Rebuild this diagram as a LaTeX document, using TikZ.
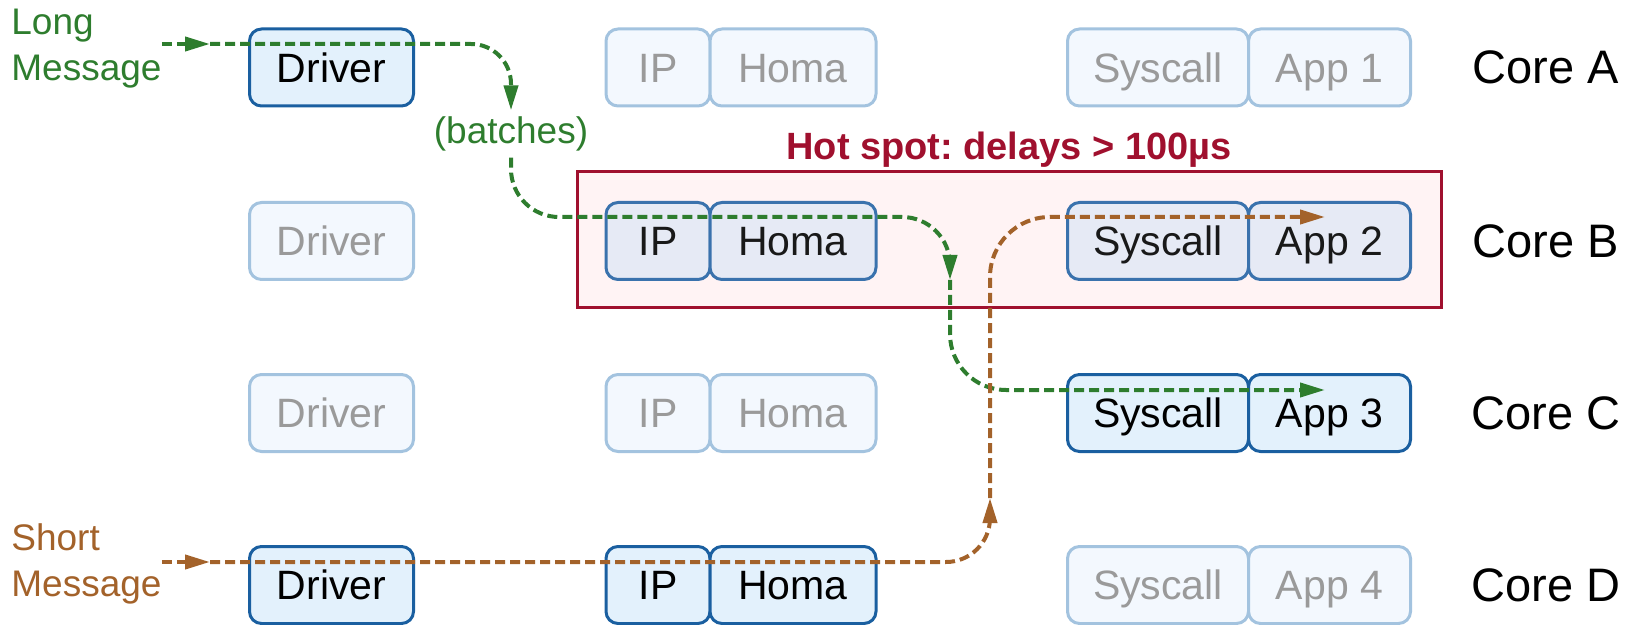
\documentclass[tikz,border=0pt]{standalone}
\usepackage{fontspec}
\setmainfont{Liberation Sans}
\usepackage{tikz}
\usetikzlibrary{arrows.meta,positioning}
\definecolor{bluex}{HTML}{1A5FA0}
\definecolor{bluebg}{HTML}{E3F1FC}
\definecolor{fadeline}{HTML}{A3C3DF}
\definecolor{fadebg}{HTML}{F3F8FE}
\definecolor{fadetext}{HTML}{9A9A9A}
\definecolor{hotline}{HTML}{3A72AD}
\definecolor{hotbg}{HTML}{E6EAF5}
\definecolor{redx}{HTML}{A0102E}
\definecolor{pinkbg}{HTML}{FFF3F4}
\definecolor{greenx}{HTML}{2E7D2E}
\definecolor{brownx}{HTML}{A3622A}
\tikzset{
  box/.style={rounded corners=6pt,line width=1.5pt,minimum height=38.5pt,inner sep=0pt,outer sep=0pt,
    text height=14.7pt,text depth=0pt,font=\fontsize{20.5}{24}\selectfont},
  act/.style={box,draw=bluex,fill=bluebg,text=black},
  dim/.style={box,draw=fadeline,fill=fadebg,text=fadetext},
  hotbox/.style={box,draw=hotline,fill=hotbg,text=black!90},
  wdrv/.style={minimum width=82pt},
  wip/.style={minimum width=52pt},
  whoma/.style={minimum width=83pt},
  wsys/.style={minimum width=90.5pt},
  wapp/.style={minimum width=81pt},
  core/.style={font=\fontsize{23.5}{28}\selectfont,inner sep=0pt},
  msg/.style={align=left,anchor=west,inner sep=0pt,font=\fontsize{18.5}{23}\selectfont},
  flow/.style={line width=2pt,dash pattern=on 5pt off 2.5pt,rounded corners=28pt},
  tip/.style={-{Triangle[length=12.5pt,width=7pt]}}
}
\begin{document}
\begin{tikzpicture}[x=0.5pt,y=-0.5pt]
\useasboundingbox (0,0) rectangle (1625,625);
% hot spot around core B
\node[draw=redx,fill=pinkbg,line width=1.5pt,minimum width=432pt,minimum height=68pt] (hot) at (1009,240) {};
\node[text=redx,inner sep=0pt,font=\bfseries\fontsize{19}{22}\selectfont,above=1.5pt of hot] (hotlbl) {Hot spot:\ delays > 100µs};
% core A
\node[act,wdrv] (drvA) at (331.5,67.5) {Driver};
\node[dim,wip] (ipA) at (658,67.5) {IP};
\node[dim,whoma,right=0pt of ipA] (homaA) {Homa};
\node[dim,wsys] (sysA) at (1158,67.5) {Syscall};
\node[dim,wapp,right=0pt of sysA] (appA) {App 1};
\node[core] (coreA) at (1546,67.5) {Core A};
% core B
\node[dim,wdrv] (drvB) at (331.5,241) {Driver};
\node[hotbox,wip] (ipB) at (658,241) {IP};
\node[hotbox,whoma,right=0pt of ipB] (homaB) {Homa};
\node[hotbox,wsys] (sysB) at (1158,241) {Syscall};
\node[hotbox,wapp,right=0pt of sysB] (appB) {App 2};
\node[core] (coreB) at (1546,241) {Core B};
% core C
\node[dim,wdrv] (drvC) at (331.5,413) {Driver};
\node[dim,wip] (ipC) at (658,413) {IP};
\node[dim,whoma,right=0pt of ipC] (homaC) {Homa};
\node[act,wsys] (sysC) at (1158,413) {Syscall};
\node[act,wapp,right=0pt of sysC] (appC) {App 3};
\node[core] (coreC) at (1546,413) {Core C};
% core D
\node[act,wdrv] (drvD) at (331.5,585) {Driver};
\node[act,wip] (ipD) at (658,585) {IP};
\node[act,whoma,right=0pt of ipD] (homaD) {Homa};
\node[dim,wsys] (sysD) at (1158,585) {Syscall};
\node[dim,wapp,right=0pt of sysD] (appD) {App 4};
\node[core] (coreD) at (1546,585) {Core D};
% messages
\node[msg,text=greenx] (longmsg) at (11,49) {Long\\Message};
\node[msg,text=brownx] (shortmsg) at (11,564) {Short\\Message};
\node[text=greenx,inner xsep=0pt,inner ysep=3pt,font=\fontsize{18.5}{22}\selectfont] (batches) at (511,134) {(batches)};
% long message path
\coordinate (gA) at (210,44);
\coordinate (gB) at (950,217);
\coordinate (gC) at (950,280);
\coordinate (gD) at (1325,390);
\draw[flow,greenx,tip] (longmsg.east |- gA) -- (gA);
\draw[flow,greenx,tip,rounded corners=20pt] (gA) -| (batches.north);
\draw[flow,greenx,tip,rounded corners=24pt] (batches.south) |- (gB) -- (gC);
\draw[flow,greenx,tip] (gC) |- (gD);
% short message path
\coordinate (bA) at (210,562);
\coordinate (bB) at (990,498);
\coordinate (bC) at (1325,217);
\draw[flow,brownx,tip] (shortmsg.east |- bA) -- (bA);
\draw[flow,brownx,tip,rounded corners=22pt] (bA) -| (bB);
\draw[flow,brownx,tip,rounded corners=30pt] (bB) |- (bC);
\end{tikzpicture}
\end{document}
